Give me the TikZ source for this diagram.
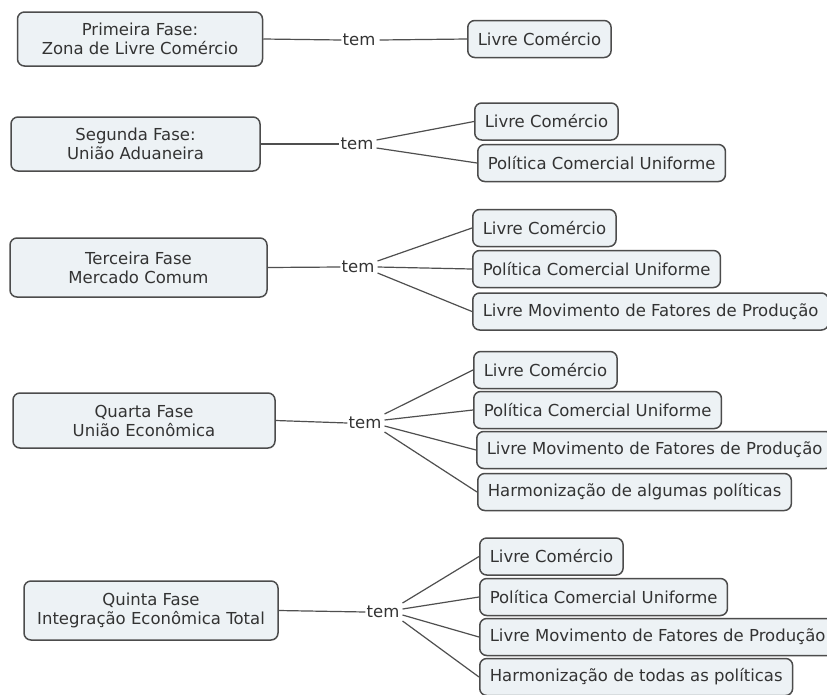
\documentclass[tikz,border=0pt]{standalone}
\usepackage{fontspec}
\setmainfont{DejaVu Sans}
\usetikzlibrary{calc}
\definecolor{boxfill}{HTML}{EDF2F5}
\definecolor{boxline}{HTML}{4C4C4C}
\definecolor{txt}{HTML}{333333}
\definecolor{conn}{HTML}{4F4F4F}
\tikzset{
  phase/.style={draw=boxline, fill=boxfill, line width=1.5pt, rounded corners=7pt,
    align=center, text=txt, font=\fontsize{16.5}{19}\selectfont, inner sep=0pt},
  item/.style={draw=boxline, fill=boxfill, line width=1.5pt, rounded corners=7pt,
    anchor=west, text=txt, font=\fontsize{16.5}{19}\selectfont, inner xsep=10pt,
    inner ysep=0pt, minimum height=37pt},
  link/.style={text=txt, font=\fontsize{16.5}{19}\selectfont, inner sep=1pt},
  conn/.style={draw=conn, line width=1.2pt}
}
\begin{document}
\begin{tikzpicture}[x=1pt,y=-1pt]
\clip (0,0) rectangle (827,694);
\fill[white] (0,0) rectangle (827,694);

% left phase boxes
\node[phase, minimum width=245pt, minimum height=54pt] (L1) at (140,39) {Primeira Fase:\\Zona de Livre Comércio};
\node[phase, minimum width=249pt, minimum height=54pt] (L2) at (135.5,144) {Segunda Fase:\\União Aduaneira};
\node[phase, minimum width=257pt, minimum height=59pt] (L3) at (138.5,267.5) {Terceira Fase\\Mercado Comum};
\node[phase, minimum width=262pt, minimum height=55pt] (L4) at (144,420.5) {Quarta Fase\\União Econômica};
\node[phase, minimum width=254pt, minimum height=59pt] (L5) at (151,610.5) {Quinta Fase\\Integração Econômica Total};

% linking phrases
\node[link] (T1) at (359,40) {tem};
\node[link] (T2) at (357,144) {tem};
\node[link] (T3) at (358,267) {tem};
\node[link] (T4) at (365,423) {tem};
\node[link] (T5) at (383,612) {tem};

% right items
\node[item] (R1a) at (467,39) {Livre Comércio};

\node[item] (R2a) at (474,121.5) {Livre Comércio};
\node[item] (R2b) at (477,163) {Política Comercial Uniforme};

\node[item] (R3a) at (472,228) {Livre Comércio};
\node[item] (R3b) at (472,269) {Política Comercial Uniforme};
\node[item] (R3c) at (472,311.5) {Livre Movimento de Fatores de Produção};

\node[item] (R4a) at (473,370) {Livre Comércio};
\node[item] (R4b) at (473,410) {Política Comercial Uniforme};
\node[item] (R4c) at (476,450) {Livre Movimento de Fatores de Produção};
\node[item] (R4d) at (477,492) {Harmonização de algumas políticas};

\node[item] (R5a) at (479,556.5) {Livre Comércio};
\node[item] (R5b) at (479,597) {Política Comercial Uniforme};
\node[item] (R5c) at (479,637) {Livre Movimento de Fatores de Produção};
\node[item] (R5d) at (479,677) {Harmonização de todas as políticas};

% connectors: phase -> tem
\foreach \i in {1,...,5} {
  \draw[conn] (L\i.east) -- (T\i.west);
}
% tem -> items
\draw[conn] ($(T1.east)+(3,0)$) -- (R1a.west);

\draw[conn] ($(T2.east)+(2,-4)$) -- (R2a.west);
\draw[conn] ($(T2.east)+(2,4)$) -- (R2b.west);

\draw[conn] ($(T3.east)+(2,-6)$) -- (R3a.west);
\draw[conn] ($(T3.east)+(2,0)$) -- (R3b.west);
\draw[conn] ($(T3.east)+(2,6)$) -- (R3c.west);

\draw[conn] ($(T4.east)+(2,-9)$) -- (R4a.west);
\draw[conn] ($(T4.east)+(2,-3)$) -- (R4b.west);
\draw[conn] ($(T4.east)+(2,3)$) -- (R4c.west);
\draw[conn] ($(T4.east)+(2,9)$) -- (R4d.west);

\draw[conn] ($(T5.east)+(2,-9)$) -- (R5a.west);
\draw[conn] ($(T5.east)+(2,-3)$) -- (R5b.west);
\draw[conn] ($(T5.east)+(2,3)$) -- (R5c.west);
\draw[conn] ($(T5.east)+(2,9)$) -- (R5d.west);
\end{tikzpicture}
\end{document}
